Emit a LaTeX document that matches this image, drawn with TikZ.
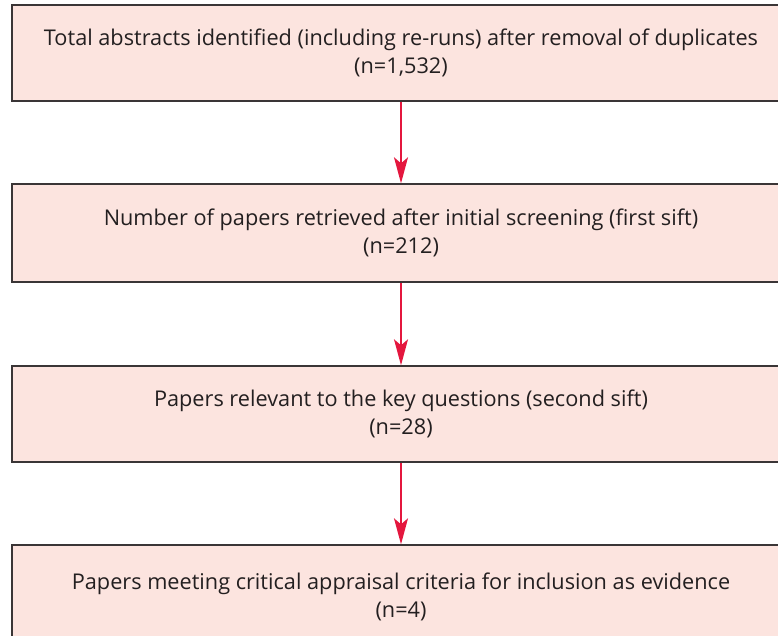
\documentclass[tikz,border=0pt]{standalone}
\usepackage{fontspec}
\setmainfont{Open Sans}
\usetikzlibrary{arrows.meta}
\definecolor{boxfill}{HTML}{FCE4DF}
\definecolor{boxline}{HTML}{3A3536}
\definecolor{txt}{HTML}{231F20}
\definecolor{arr}{HTML}{E4173E}
\begin{document}
\begin{tikzpicture}[x=1pt,y=-1pt,
  flowbox/.style={draw=boxline, line width=1.4pt, fill=boxfill, rectangle,
    minimum width=778pt, inner sep=0pt, align=center, text=txt,
    font=\fontsize{21.7}{28.5}\selectfont},
  flowarrow/.style={draw=arr, line width=1.5pt, -{Stealth[length=26pt,width=14pt,inset=6pt]}}]
\useasboundingbox (0,0) rectangle (778,636);
\clip (0,0) rectangle (778,636);
\fill[white] (0,0) rectangle (778,636);
\node[flowbox, minimum height=96pt] (b1) at (401,53) {Total abstracts identified (including re-runs) after removal of duplicates\\(n=1,532)};
\node[flowbox, minimum height=98pt] (b2) at (401,233) {Number of papers retrieved after initial screening (first sift)\\(n=212)};
\node[flowbox, minimum height=96pt] (b3) at (401,414) {Papers relevant to the key questions (second sift)\\(n=28)};
\node[flowbox, minimum height=100pt, text depth=0pt] (b4) at (401,595) {Papers meeting critical appraisal criteria for inclusion as evidence\\(n=4)};
\draw[flowarrow] (b1.south) -- (b2.north);
\draw[flowarrow] (b2.south) -- (b3.north);
\draw[flowarrow] (b3.south) -- (b4.north);
\end{tikzpicture}
\end{document}
